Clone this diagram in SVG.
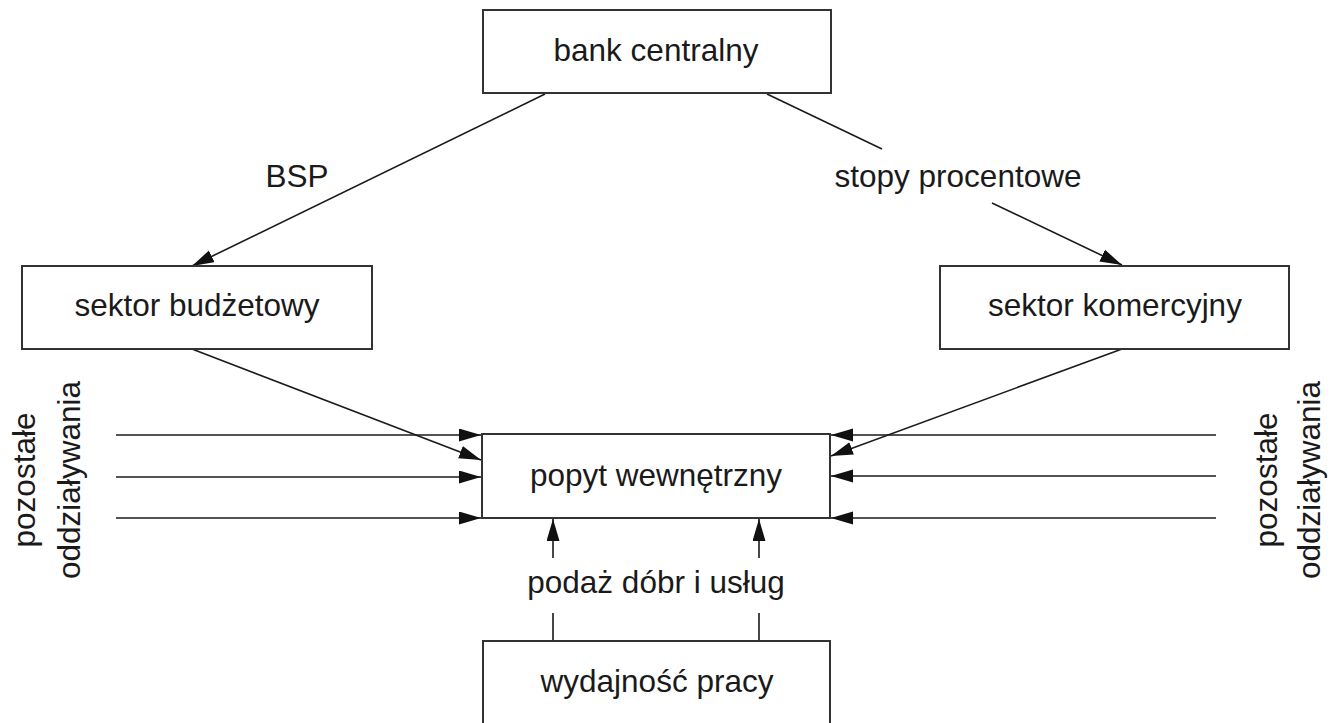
<svg xmlns="http://www.w3.org/2000/svg" width="1330" height="723" viewBox="0 0 1330 723">
<style>
.box{fill:#fff;stroke:#333;stroke-width:2}
.t{font-family:"Liberation Sans",Arial,sans-serif;font-size:31.5px;fill:#1a1a1a;text-anchor:middle}
.c{fill:none;stroke:#1a1a1a;stroke-width:1.6}
</style>
<defs>
<marker id="ah" markerUnits="userSpaceOnUse" markerWidth="24" markerHeight="14" refX="22" refY="6.5" orient="auto">
<path d="M0,0 L22,6.5 L0,13 Z" fill="#111"/>
</marker>
</defs>
<rect width="1330" height="723" fill="#fff"/>
<g id="connectors">
<line class="c" x1="545" y1="94" x2="192" y2="266" marker-end="url(#ah)"/>
<line class="c" x1="767" y1="94" x2="882" y2="149"/>
<line class="c" x1="992" y1="203" x2="1122" y2="265" marker-end="url(#ah)"/>
<line class="c" x1="192" y1="349" x2="481" y2="460" marker-end="url(#ah)"/>
<line class="c" x1="1122" y1="349" x2="831" y2="456" marker-end="url(#ah)"/>
<line class="c" x1="116" y1="435" x2="481" y2="435" marker-end="url(#ah)"/>
<line class="c" x1="116" y1="477" x2="481" y2="477" marker-end="url(#ah)"/>
<line class="c" x1="116" y1="518" x2="481" y2="518" marker-end="url(#ah)"/>
<line class="c" x1="1216" y1="435" x2="831" y2="435" marker-end="url(#ah)"/>
<line class="c" x1="1216" y1="476" x2="831" y2="476" marker-end="url(#ah)"/>
<line class="c" x1="1216" y1="518" x2="831" y2="518" marker-end="url(#ah)"/>
<line class="c" x1="553" y1="558" x2="553" y2="519" marker-end="url(#ah)"/>
<line class="c" x1="759" y1="558" x2="759" y2="519" marker-end="url(#ah)"/>
<line class="c" x1="553" y1="613" x2="553" y2="641"/>
<line class="c" x1="759" y1="613" x2="759" y2="641"/>
</g>
<g id="bank">
<rect class="box" x="483" y="10" width="348" height="83"/>
<text class="t" x="656" y="61">bank centralny</text>
</g>
<g id="budzetowy">
<rect class="box" x="22" y="266" width="350" height="83"/>
<text class="t" x="197" y="316">sektor budżetowy</text>
</g>
<g id="komercyjny">
<rect class="box" x="940" y="266" width="349" height="83"/>
<text class="t" x="1115" y="316">sektor komercyjny</text>
</g>
<g id="popyt">
<rect class="box" x="482" y="434" width="348" height="84"/>
<text class="t" x="656" y="486">popyt wewnętrzny</text>
</g>
<g id="wydajnosc">
<rect class="box" x="483" y="641" width="347" height="100"/>
<text class="t" x="657" y="692">wydajność pracy</text>
</g>
<g id="labels">
<text class="t" x="297" y="187">BSP</text>
<text class="t" x="958" y="187">stopy procentowe</text>
<text class="t" x="656" y="593">podaż dóbr i usług</text>
<text class="t" transform="translate(35,480) rotate(-90)">pozostałe</text>
<text class="t" transform="translate(80,480) rotate(-90)">oddziaływania</text>
<text class="t" transform="translate(1277,480) rotate(-90)">pozostałe</text>
<text class="t" transform="translate(1320,480) rotate(-90)">oddziaływania</text>
</g>
</svg>
